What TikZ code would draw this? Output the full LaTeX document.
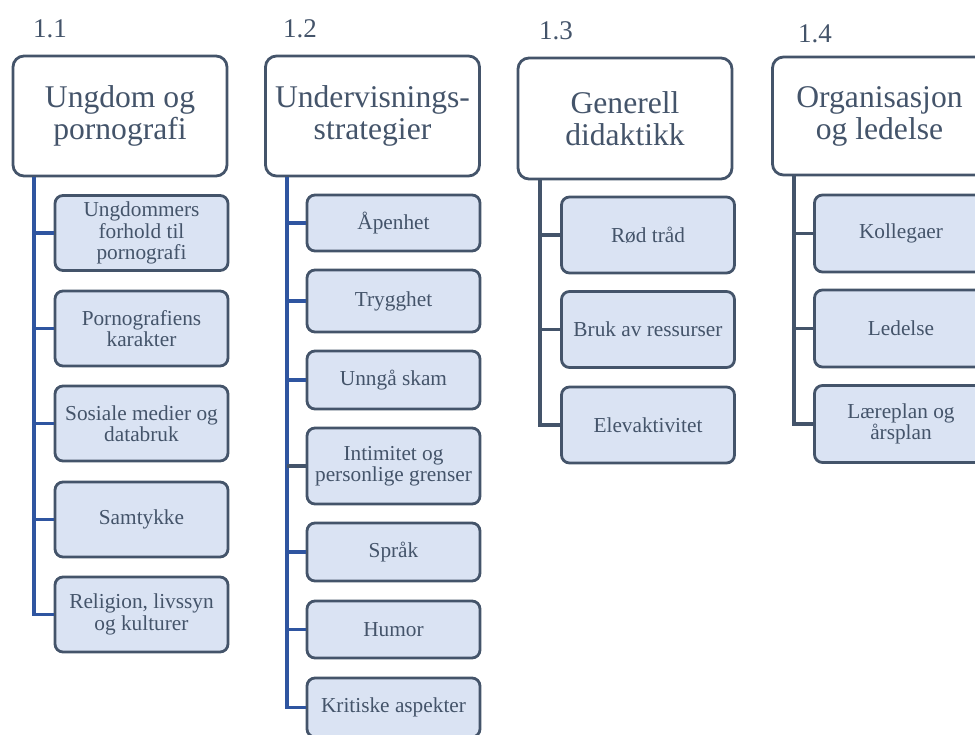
\documentclass[tikz,border=0pt]{standalone}
\usepackage{fontspec}
\setmainfont{Liberation Serif}
\usetikzlibrary{positioning}
\definecolor{slate}{HTML}{44546A}
\definecolor{paleblue}{HTML}{DAE3F3}
\definecolor{treeblue}{HTML}{2F55A0}

\begin{document}
\begin{tikzpicture}[x=1pt,y=-1pt,
  every node/.style={text=slate,align=center,inner sep=0pt},
  head/.style={draw=slate,line width=2.8pt,fill=white,rounded corners=11pt,
    minimum width=214pt,minimum height=120pt,font=\fontsize{31.6}{32}\selectfont},
  item/.style={draw=slate,line width=2.8pt,fill=paleblue,rounded corners=8pt,
    minimum width=173pt,minimum height=75pt,font=\fontsize{21.3}{21.5}\selectfont},
  num/.style={font=\fontsize{27}{28}\selectfont},
  blueline/.style={draw=treeblue,line width=3.4pt},
  greyline/.style={draw=slate,line width=3.4pt}]
  \useasboundingbox (0,0) rectangle (975,735);

  \node[num] (n_1) at (50,29) {1.1};
  \node[num] (n_2) at (300,29) {1.2};
  \node[num] (n_3) at (556,31) {1.3};
  \node[num] (n_4) at (815,34) {1.4};

  \coordinate (t_1) at (34,0);
  \coordinate (t_2) at (287,0);
  \coordinate (t_3) at (540,0);
  \coordinate (t_4) at (794,0);

  % 1.1
  \node[head] (h_1) at (120,116) {Ungdom og\\pornografi};
  \node[item] (a_1) at (141.5,233) {Ungdommers\\forhold til\\pornografi};
  \node[item] (a_2) at (141.5,328.5) {Pornografiens\\karakter};
  \node[item] (a_3) at (141.5,423.5) {Sosiale medier og\\databruk};
  \node[item] (a_4) at (141.5,519.5) {Samtykke};
  \node[item] (a_5) at (141.5,614.5) {Religion, livssyn\\og kulturer};

  % 1.2
  \node[head] (h_2) at (372.5,116) {Undervisnings-\\strategier};
  \node[item,minimum height=56pt] (b_1) at (393.5,223) {Åpenhet};
  \node[item,minimum height=62pt] (b_2) at (393.5,301) {Trygghet};
  \node[item,minimum height=58pt] (b_3) at (393.5,380) {Unngå skam};
  \node[item,minimum height=76pt] (b_4) at (393.5,466) {Intimitet og\\personlige grenser};
  \node[item,minimum height=58pt] (b_5) at (393.5,552) {Språk};
  \node[item,minimum height=57pt] (b_6) at (393.5,629.5) {Humor};
  \node[item,minimum height=59pt] (b_7) at (393.5,707.5) {Kritiske aspekter};

  % 1.3
  \node[head,minimum height=121pt] (h_3) at (625,118.5) {Generell\\didaktikk};
  \node[item,minimum height=76pt] (c_1) at (648,235) {Rød tråd};
  \node[item,minimum height=76pt] (c_2) at (648,329.5) {Bruk av ressurser};
  \node[item,minimum height=76pt] (c_3) at (648,425) {Elevaktivitet};

  % 1.4
  \node[head,minimum height=118pt] (h_4) at (879.5,116) {Organisasjon\\og ledelse};
  \node[item,minimum height=77pt] (d_1) at (901,233.5) {Kollegaer};
  \node[item,minimum height=77pt] (d_2) at (901,328.5) {Ledelse};
  \node[item,minimum height=77pt] (d_3) at (901,424) {Læreplan og\\årsplan};

  \foreach \n in {a_1,a_2,a_3,a_4,a_5}
    \draw[blueline] (h_1.south -| t_1) |- (\n.west);
  \foreach \n in {b_1,b_2,b_3,b_5,b_6,b_7}
    \draw[blueline] (h_2.south -| t_2) |- (\n.west);
  \draw[greyline] (t_2 |- b_4.west) -- (b_4.west);
  \foreach \n in {c_1,c_2,c_3}
    \draw[greyline] (h_3.south -| t_3) |- (\n.west);
  \foreach \n in {d_1,d_2,d_3}
    \draw[greyline] (h_4.south -| t_4) |- (\n.west);
\end{tikzpicture}
\end{document}
